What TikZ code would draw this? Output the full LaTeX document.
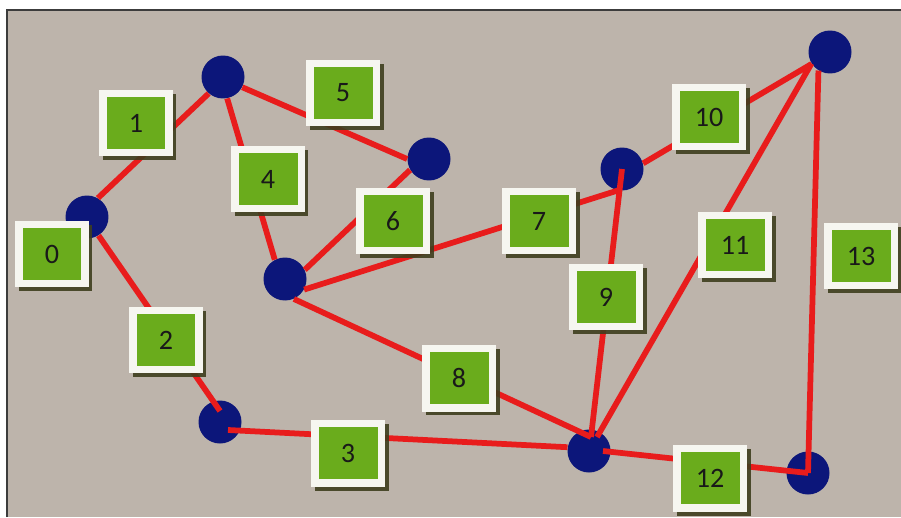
\documentclass[tikz,border=0pt]{standalone}
\usepackage{fontspec}
\setmainfont{Carlito}
\usetikzlibrary{shadows}

\definecolor{canvas}{RGB}{189,180,171}
\definecolor{framegray}{RGB}{60,60,60}
\definecolor{boxgreen}{RGB}{106,172,28}
\definecolor{rim}{RGB}{246,246,240}
\definecolor{shade}{RGB}{62,62,30}
\definecolor{hubblue}{RGB}{12,22,122}
\definecolor{linkred}{RGB}{232,28,28}

\tikzset{
  hub/.style={circle, fill=hubblue, minimum size=0.86cm, inner sep=0pt},
  tag/.style={rectangle, fill=rim, minimum width=1.48cm, minimum height=1.34cm,
    inner sep=0pt, text=black!90, font=\fontsize{16}{19}\selectfont,
    drop shadow={shadow xshift=0.07cm, shadow yshift=-0.08cm, fill=shade, opacity=0.9},
    path picture={\fill[boxgreen]
      ([shift={(0.15cm,0.15cm)}]path picture bounding box.south west) rectangle
      ([shift={(-0.15cm,-0.15cm)}]path picture bounding box.north east);}},
  link/.style={draw=linkred, line width=0.115cm}
}

\begin{document}
\begin{tikzpicture}[x=0.02cm, y=-0.02cm]
    \useasboundingbox (0,0) rectangle (901,517);

    % 1. Canvas and frame
    \fill[white] (0,0) rectangle (901,517);
    \fill[canvas] (7,10) rectangle (901,517);
    \draw[framegray, line width=0.8pt] (7,517) -- (7,10) -- (901,10);

    % 2. Junctions
    \node[hub] (A) at (223,77)  {};
    \node[hub] (B) at (87,217)  {};
    \node[hub] (C) at (429,159) {};
    \node[hub] (D) at (285,279) {};
    \node[hub] (E) at (622,169) {};
    \node[hub] (F) at (830,52)  {};
    \node[hub] (G) at (220,422) {};
    \node[hub] (H) at (589,451) {};
    \node[hub] (I) at (808,473) {};

    % 3. Links between junctions
    \draw[link] (B.60) -- (A.229);
    \draw[link] (B.302) -- ([yshift=0.22cm]G.center);
    \draw[link] ([shift={(0.16cm,-0.16cm)}]G.center) -- (H.170);
    \draw[link] (A.281) -- (D.118);
    \draw[link] (A.332) -- (C.180);
    \draw[link] (C.210) -- (D.25);
    \draw[link] (D.331) -- (E.259);
    \draw[link] (D.294) -- ([shift={(0.04cm,0.28cm)}]H.center);
    \draw[link] (E.center) -- ([shift={(0.04cm,0.28cm)}]H.center);
    \draw[link] (E.15) -- (F.213);
    \draw[link] ([shift={(0.16cm,0.28cm)}]H.center) -- (F.212);
    \draw[link] ([xshift=0.28cm]H.center) -- (I.center);
    \draw[link] (F.238) -- (I.center);

    % 4. Numbered labels
    \node[tag] (t0)  at (52,254)  {0};
    \node[tag] (t1)  at (136,123) {1};
    \node[tag] (t2)  at (166,340) {2};
    \node[tag] (t3)  at (348,453) {3};
    \node[tag] (t4)  at (268,179) {4};
    \node[tag] (t5)  at (343,93)  {5};
    \node[tag] (t6)  at (393,221) {6};
    \node[tag] (t7)  at (539,221) {7};
    \node[tag] (t8)  at (459,378) {8};
    \node[tag] (t9)  at (606,297) {9};
    \node[tag] (t10) at (709,117) {10};
    \node[tag] (t11) at (735,245) {11};
    \node[tag] (t12) at (710,478) {12};
    \node[tag] (t13) at (861,256) {13};
\end{tikzpicture}
\end{document}
